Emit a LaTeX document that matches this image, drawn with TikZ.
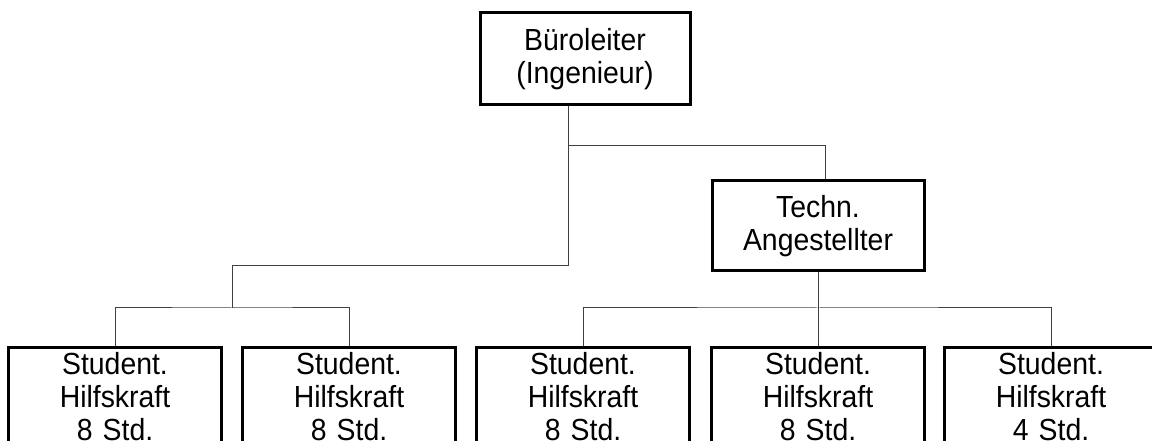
\documentclass[tikz,border=0pt]{standalone}
\usepackage{fontspec}
\setmainfont{Liberation Sans}[FakeStretch=0.93]
\usetikzlibrary{calc}
\begin{document}
\begin{tikzpicture}[x=1pt, y=-1pt,
    box/.style={draw=black, line width=2.25pt, align=center, inner sep=0pt,
        font=\fontsize{22.9pt}{24.75pt}\selectfont},
    hilfe/.style={box, anchor=north, minimum width=159.75pt, text width=150pt,
        text height=16.5pt, text depth=75pt, inner ysep=4pt},
    link/.style={draw=black!75, line width=0.75pt}]
    \useasboundingbox (0, 0) rectangle (864, 330.75);
    \clip (0, 0) rectangle (864, 330.75);
    \node[box, minimum width=157.5pt, minimum height=69pt] (buero) at (438.75, 44.25) {Büroleiter\\(Ingenieur)};
    \node[box, minimum width=159pt, minimum height=67.5pt] (techn) at (613.5, 169.5) {Techn.\\Angestellter};
    \node[hilfe] (s1) at (86.25, 259.5) {Student.\\Hilfskraft\\8 Std.};
    \node[hilfe] (s2) at (261.75, 259.5) {Student.\\Hilfskraft\\8 Std.};
    \node[hilfe] (s3) at (437.25, 259.5) {Student.\\Hilfskraft\\8 Std.};
    \node[hilfe] (s4) at (613.5, 259.5) {Student.\\Hilfskraft\\8 Std.};
    \node[hilfe] (s5) at (788.25, 259.5) {Student.\\Hilfskraft\\4 Std.};
    \coordinate (ast) at (426, 109.5);
    \coordinate (knick) at (426, 199.5);
    \coordinate (linksmitte) at (174, 231);
    \coordinate (rechtsmitte) at (613.5, 231);
    \draw[link] (buero.south -| ast) -- (knick) -| (linksmitte);
    \draw[link] (ast) -| ($(techn.north)+(5.25, 0)$);
    \draw[link] (s1.north) |- (linksmitte) -| (s2.north);
    \draw[link] (techn.south) -- (rechtsmitte);
    \draw[link] (s3.north) |- (rechtsmitte) -| (s5.north);
    \draw[link] (rechtsmitte) -- (s4.north);
\end{tikzpicture}
\end{document}
